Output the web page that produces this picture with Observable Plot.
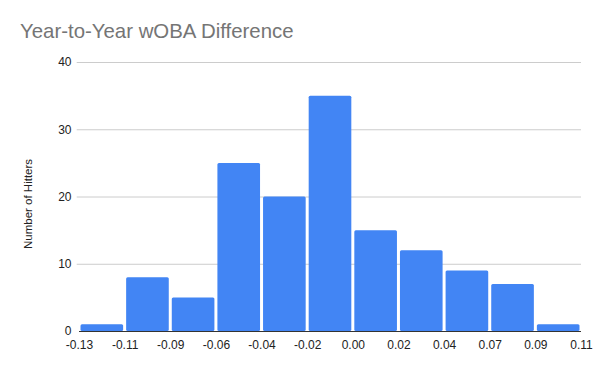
<!DOCTYPE html>
<html>
<head>
<meta charset="utf-8">
<script src="https://cdn.jsdelivr.net/npm/d3@7"></script>
<script src="https://cdn.jsdelivr.net/npm/@observablehq/plot@0.6"></script>
<style>
  body { margin: 0; background: #fff; }
  #wrap { position: relative; width: 600px; height: 371px; }
  #title { height: 45px; box-sizing: border-box; padding: 20px 0 0 20px; font: 20.4px "Liberation Sans", Arial, sans-serif; color: #757575; line-height: 22px; }
</style>
</head>
<body>
<div id="wrap">
  <div id="title">Year-to-Year wOBA Difference</div>
  <div id="chart"></div>
</div>
<script>
const binLabels = ["-0.13","-0.11","-0.09","-0.06","-0.04","-0.02","0.00","0.02","0.04","0.07","0.09","0.11"];
const counts = [1, 8, 5, 25, 20, 35, 15, 12, 9, 7, 1];
const yTicks = [0, 10, 20, 30, 40];

const bins = counts.map((c, i) => ({i0: i, i1: i + 1, count: c}));

const chart = Plot.plot({
  width: 600,
  height: 326,
  marginTop: 17,
  marginBottom: 40,
  marginLeft: 79,
  marginRight: 19,
  style: {fontFamily: "'Liberation Sans', Arial, sans-serif", fontSize: "12px", color: "#222"},
  x: {domain: [0, binLabels.length - 1], ticks: d3.range(binLabels.length), tickFormat: i => binLabels[i], tickSize: 0, tickPadding: 9, label: null},
  y: {domain: [0, 40], ticks: yTicks, tickSize: 0, tickPadding: 8, label: null},
  marks: [
    Plot.gridY(yTicks.slice(1), {stroke: "#ccc", strokeOpacity: 1, x1: -0.05, x2: binLabels.length - 1}),
    Plot.rectY(bins, {x1: "i0", x2: "i1", y: "count", fill: "#4285F4", insetLeft: 1.5, insetRight: 1.5, rx: 1.5}),
    Plot.ruleY([0], {stroke: "#333", strokeWidth: 1}),
    Plot.axisX({ticks: d3.range(binLabels.length), tickFormat: i => binLabels[i], tickSize: 0, tickPadding: 9, label: null}),
    Plot.axisY({ticks: yTicks, tickSize: 0, tickPadding: 8, label: null}),
    Plot.text(["Number of Hitters"], {frameAnchor: "left", textAnchor: "middle", dx: -51, dy: 7, rotate: -90, fontSize: 11.5, fill: "#222"})
  ]
});
document.getElementById("chart").appendChild(chart);
</script>
</body>
</html>
